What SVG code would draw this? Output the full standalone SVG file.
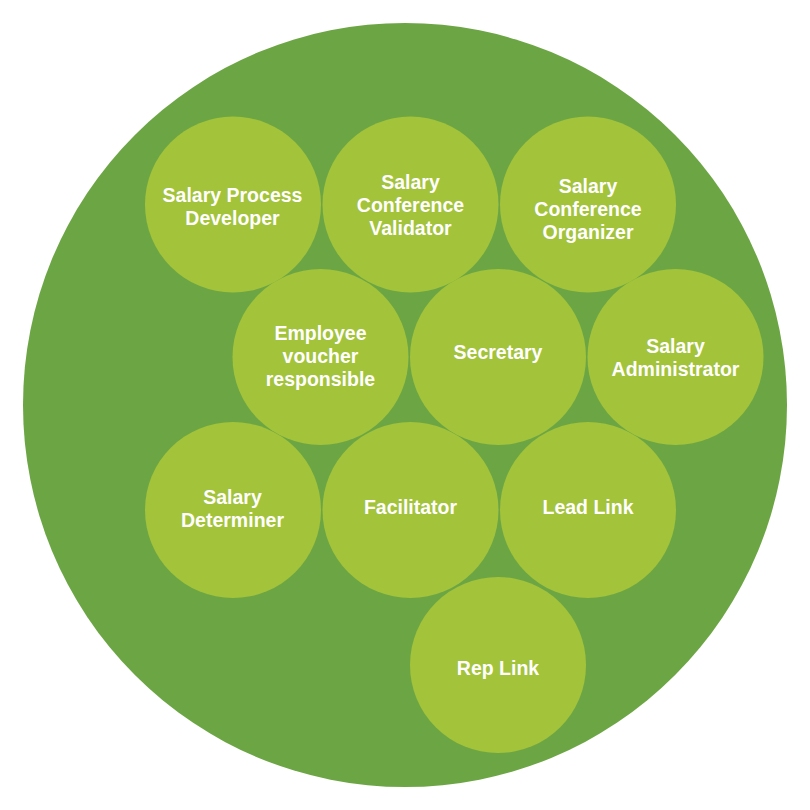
<svg xmlns="http://www.w3.org/2000/svg" width="810" height="810" viewBox="0 0 810 810">
<style>
.outer{fill:#6CA644}
.role{fill:#A3C33A}
.lbl{fill:#FFFFFF;font-family:"Liberation Sans",Arial,sans-serif;font-weight:bold;font-size:19.5px;text-anchor:middle}
</style>
<rect width="810" height="810" fill="#FFFFFF"/>
<g id="circle">
<circle class="outer" cx="405" cy="405" r="382"/>
</g>
<g id="connectors"></g>
<g id="salary-process-developer">
<circle class="role" cx="233" cy="204.5" r="88"/>
<text class="lbl" x="232.5" y="202">Salary Process</text>
<text class="lbl" x="232.5" y="225">Developer</text>
</g>
<g id="salary-conference-validator">
<circle class="role" cx="410.5" cy="204.5" r="88"/>
<text class="lbl" x="410.5" y="189">Salary</text>
<text class="lbl" x="410.5" y="212">Conference</text>
<text class="lbl" x="410.5" y="235">Validator</text>
</g>
<g id="salary-conference-organizer">
<circle class="role" cx="588" cy="204.5" r="88"/>
<text class="lbl" x="588" y="193">Salary</text>
<text class="lbl" x="588" y="216">Conference</text>
<text class="lbl" x="588" y="239">Organizer</text>
</g>
<g id="employee-voucher-responsible">
<circle class="role" cx="320.5" cy="357" r="88"/>
<text class="lbl" x="320.5" y="340">Employee</text>
<text class="lbl" x="320.5" y="363">voucher</text>
<text class="lbl" x="320.5" y="386">responsible</text>
</g>
<g id="secretary">
<circle class="role" cx="498" cy="357" r="88"/>
<text class="lbl" x="498" y="359">Secretary</text>
</g>
<g id="salary-administrator">
<circle class="role" cx="675.5" cy="357" r="88"/>
<text class="lbl" x="675.5" y="353">Salary</text>
<text class="lbl" x="675.5" y="376">Administrator</text>
</g>
<g id="salary-determiner">
<circle class="role" cx="233" cy="510" r="88"/>
<text class="lbl" x="232.5" y="504">Salary</text>
<text class="lbl" x="232.5" y="527">Determiner</text>
</g>
<g id="facilitator">
<circle class="role" cx="410.5" cy="510" r="88"/>
<text class="lbl" x="410.5" y="514">Facilitator</text>
</g>
<g id="lead-link">
<circle class="role" cx="588" cy="510" r="88"/>
<text class="lbl" x="588" y="514">Lead Link</text>
</g>
<g id="rep-link">
<circle class="role" cx="498" cy="665" r="88"/>
<text class="lbl" x="498" y="675">Rep Link</text>
</g>
</svg>
